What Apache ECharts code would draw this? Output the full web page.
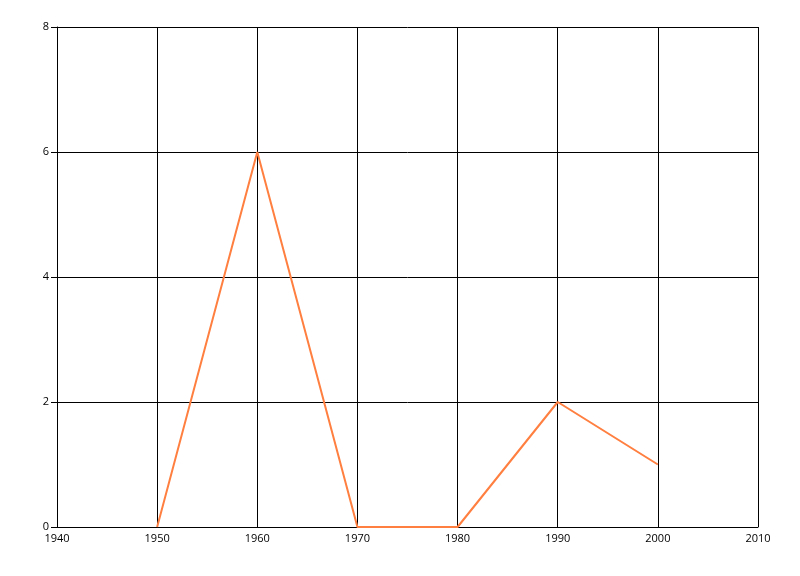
<!DOCTYPE html>
<html><head><meta charset="utf-8">
<script src="https://cdn.jsdelivr.net/npm/echarts@6/dist/echarts.min.js"></script>
<style>html,body{margin:0;padding:0;background:#fff}#c{width:800px;height:576px}</style>
</head><body><div id="c"></div>
<script>
var years = [1950, 1960, 1970, 1980, 1990, 2000];
var values = [0, 6, 0, 0, 2, 1];
var chart = echarts.init(document.getElementById('c'), null, {renderer: 'canvas'});
var lbl = {color: '#000', fontFamily: 'Open Sans, sans-serif', fontSize: 11, formatter: function(v){ return String(v); }};
chart.setOption({
  animation: false,
  backgroundColor: '#fff',
  grid: {left: 57, right: 42, top: 27, bottom: 49, containLabel: false},
  xAxis: {
    type: 'value', min: 1940, max: 2010, interval: 10,
    axisLine: {show: true, lineStyle: {color: '#000', width: 1}},
    axisTick: {show: false},
    axisLabel: Object.assign({margin: 6}, lbl),
    splitLine: {show: true, lineStyle: {color: '#000', width: 1}}
  },
  yAxis: {
    type: 'value', min: 0, max: 8, interval: 2,
    axisLine: {show: true, lineStyle: {color: '#000', width: 1}},
    axisTick: {show: true, inside: false, length: 6, lineStyle: {color: '#000'}},
    axisLabel: Object.assign({margin: 8}, lbl),
    splitLine: {show: true, lineStyle: {color: '#000', width: 1}}
  },
  series: [{
    type: 'line',
    data: years.map(function(y, i){ return [y, values[i]]; }),
    showSymbol: false, symbol: 'none',
    lineStyle: {color: '#ff7f40', width: 2},
    itemStyle: {color: '#ff7f40'}
  }]
});
</script></body></html>
